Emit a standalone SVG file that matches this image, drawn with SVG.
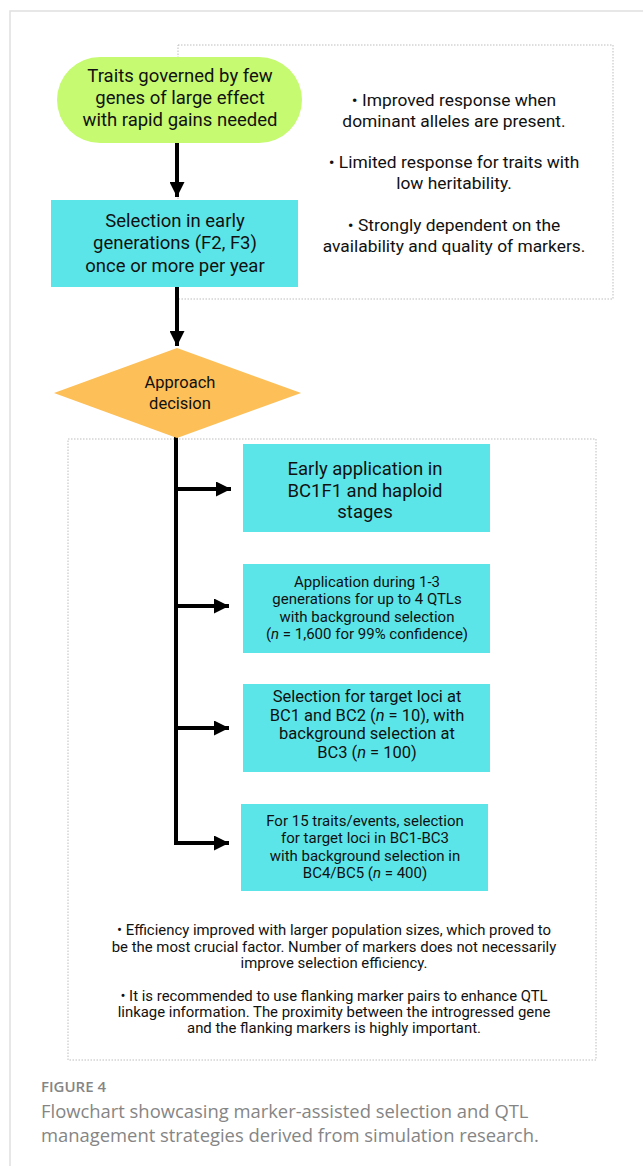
<svg xmlns="http://www.w3.org/2000/svg" width="643" height="1166" viewBox="0 0 643 1166">
<defs>
<style>
.t{font-family:Roboto,"Liberation Sans",sans-serif;fill:#111;text-anchor:middle}
.big{font-size:18.5px}
.mid{font-size:16.5px}
.rn{font-size:17.4px}
.sm{font-size:15px}
.xs{font-size:14.9px}
.blue{fill:#5ce5e8}
.dot{fill:none;stroke:#bdbdbd;stroke-width:1;stroke-dasharray:1.5 1.5}
.conn{fill:none;stroke:#000;stroke-width:4}
.cap{font-family:"Open Sans","Liberation Sans",sans-serif;fill:#858585}
</style>
<marker id="ah" markerUnits="userSpaceOnUse" markerWidth="15" markerHeight="15" refX="15" refY="7.5" orient="auto">
<path d="M0,0 L15,7.5 L0,15 z" fill="#000"/>
</marker>
</defs>
<rect width="643" height="1166" fill="#fff"/>
<path d="M10,1166 V11 H643" fill="none" stroke="#e0e0e0" stroke-width="1.5"/>
<rect class="dot" x="178" y="45" width="435" height="254"/>
<rect class="dot" x="68" y="439" width="528" height="621"/>
<g id="connectors">
<line class="conn" x1="177" y1="143" x2="177" y2="197" marker-end="url(#ah)"/>
<line class="conn" x1="177" y1="287" x2="177" y2="346" marker-end="url(#ah)"/>
<path class="conn" d="M176,436 V843 H229" marker-end="url(#ah)"/>
<line class="conn" x1="176" y1="489" x2="231" y2="489" marker-end="url(#ah)"/>
<line class="conn" x1="176" y1="606" x2="229" y2="606" marker-end="url(#ah)"/>
<line class="conn" x1="176" y1="728" x2="229" y2="728" marker-end="url(#ah)"/>
</g>
<g id="n-traits">
<rect x="57" y="57" width="245" height="86" rx="43" fill="#c6fa70"/>
<text class="t big" x="180" y="82">Traits governed by few</text>
<text class="t big" x="180" y="104">genes of large effect</text>
<text class="t big" x="180" y="126">with rapid gains needed</text>
</g>
<g id="n-notes-top">
<text class="t rn" x="454" y="106">• Improved response when</text>
<text class="t rn" x="454" y="127">dominant alleles are present.</text>
<text class="t rn" x="454" y="168">• Limited response for traits with</text>
<text class="t rn" x="454" y="189">low heritability.</text>
<text class="t rn" x="454" y="231">• Strongly dependent on the</text>
<text class="t rn" x="454" y="252">availability and quality of markers.</text>
</g>
<g id="n-selection">
<rect class="blue" x="51" y="200" width="247" height="87"/>
<text class="t big" x="175" y="227">Selection in early</text>
<text class="t big" x="175" y="249">generations (F2, F3)</text>
<text class="t big" x="175" y="272">once or more per year</text>
</g>
<g id="n-decision">
<polygon points="177,348 301,393 177,438 54,393" fill="#fdbf57"/>
<text class="t mid" x="180" y="388">Approach</text>
<text class="t mid" x="180" y="409">decision</text>
</g>
<g id="n-early">
<rect class="blue" x="243" y="444" width="247" height="88"/>
<text class="t big" x="365" y="475">Early application in</text>
<text class="t big" x="365" y="497">BC1F1 and haploid</text>
<text class="t big" x="365" y="518">stages</text>
</g>
<g id="n-application">
<rect class="blue" x="243" y="564" width="247" height="89"/>
<text class="t sm" x="367" y="587">Application during 1-3</text>
<text class="t sm" x="367" y="604">generations for up to 4 QTLs</text>
<text class="t sm" x="367" y="622">with background selection</text>
<text class="t sm" x="367" y="639">(<tspan font-style="italic">n</tspan> = 1,600 for 99% confidence)</text>
</g>
<g id="n-target">
<rect class="blue" x="243" y="684" width="247" height="88"/>
<text class="t mid" x="367" y="702">Selection for target loci at</text>
<text class="t mid" x="367" y="721">BC1 and BC2 (<tspan font-style="italic">n</tspan> = 10), with</text>
<text class="t mid" x="367" y="739">background selection at</text>
<text class="t mid" x="367" y="758">BC3 (<tspan font-style="italic">n</tspan> = 100)</text>
</g>
<g id="n-fifteen">
<rect class="blue" x="241" y="804" width="247" height="87"/>
<text class="t sm" x="365" y="826">For 15 traits/events, selection</text>
<text class="t sm" x="365" y="843">for target loci in BC1-BC3</text>
<text class="t sm" x="365" y="861">with background selection in</text>
<text class="t sm" x="365" y="878">BC4/BC5 (<tspan font-style="italic">n</tspan> = 400)</text>
</g>
<g id="n-notes-bottom">
<text class="t xs" x="334" y="935">• Efficiency improved with larger population sizes, which proved to</text>
<text class="t xs" x="334" y="952">be the most crucial factor. Number of markers does not necessarily</text>
<text class="t xs" x="334" y="968">improve selection efficiency.</text>
<text class="t xs" x="334" y="1001">• It is recommended to use flanking marker pairs to enhance QTL</text>
<text class="t xs" x="334" y="1017">linkage information. The proximity between the introgressed gene</text>
<text class="t xs" x="334" y="1033">and the flanking markers is highly important.</text>
</g>
<g id="caption">
<text class="cap" x="41" y="1092" font-size="15" font-weight="600" fill="#777">FIGURE 4</text>
<text class="cap" x="41" y="1118" font-size="18.4">Flowchart showcasing marker-assisted selection and QTL</text>
<text class="cap" x="41" y="1142" font-size="18.4">management strategies derived from simulation research.</text>
</g>
</svg>
